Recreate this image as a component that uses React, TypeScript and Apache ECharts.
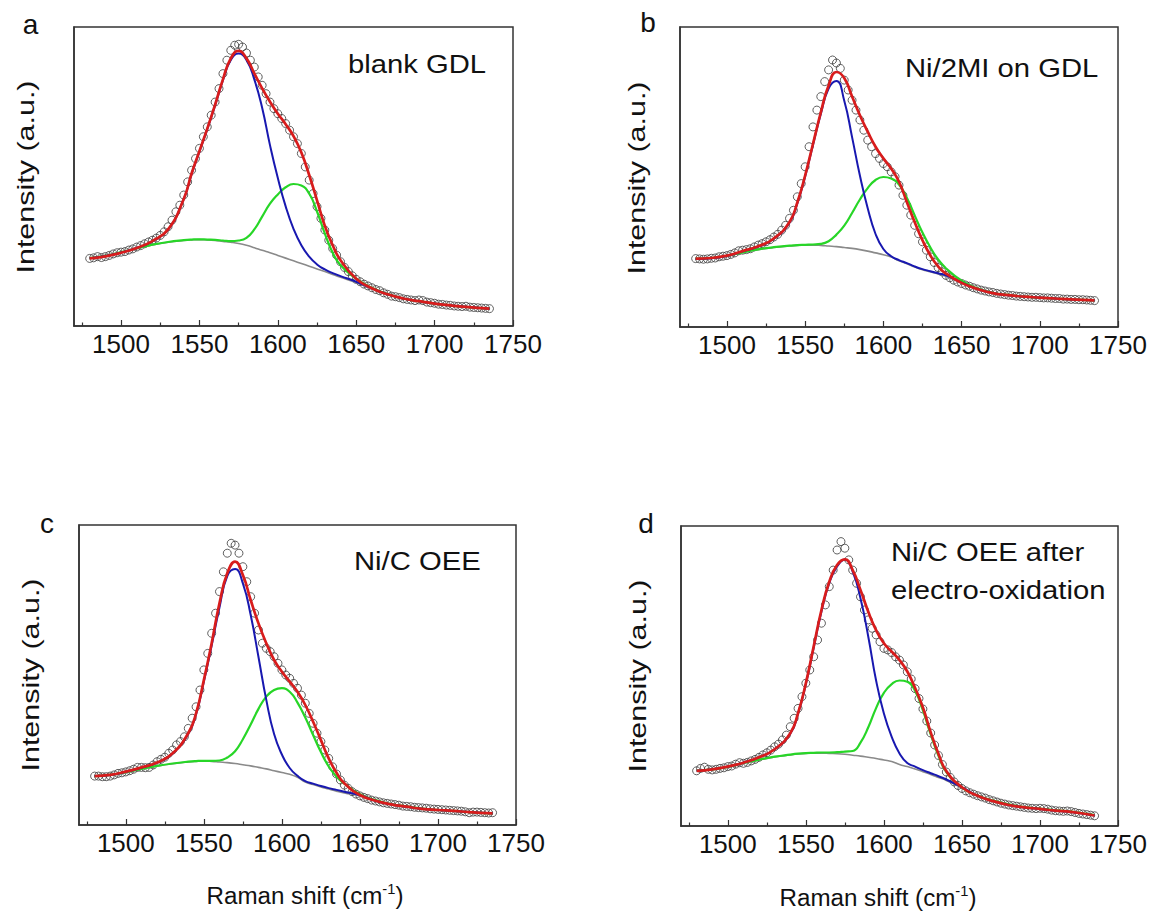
import React, { useEffect, useRef } from "react";
import * as echarts from "echarts";

const FONT = '"Liberation Sans", Arial, Helvetica, sans-serif';
const X_MIN = 1470;
const X_MAX = 1750;
const MAJOR_TICKS = [1500, 1550, 1600, 1650, 1700, 1750];
const MINOR_TICKS = [1475, 1525, 1575, 1625, 1675, 1725];

// measured spectrum sampling grid (every 2.5 cm-1 from 1480 to 1735)
const X_DATA = Array.from({ length: 103 }, (_, i) => 1480 + 2.5 * i);
// grid for the fitted curves
const X_LINE = [1480, 1490, 1500, 1510, 1520, 1530, 1540, 1545, 1550, 1555, 1560, 1565, 1570, 1575, 1580, 1585, 1590, 1595, 1600, 1605, 1610, 1615, 1620, 1625, 1630, 1635, 1640, 1650, 1660, 1670, 1680, 1690, 1700, 1710, 1720, 1735];

// ---- panel a: blank GDL ----
const A_DATA = [
  22.6, 22.8, 23.2, 22.9, 23.2, 23.6, 24.1, 24.5, 24.7, 24.9,
  25.4, 25.8, 26.4, 26.9, 27.5, 28.1, 28.7, 29.4, 30.3, 31.5,
  33.2, 35.4, 38.2, 40.4, 43.8, 48.2, 52.1, 56.0, 59.4, 63.3,
  66.6, 70.5, 74.9, 79.4, 84.4, 88.9, 92.2, 93.9, 94.2, 93.3,
  91.3, 88.9, 86.6, 83.3, 80.5, 77.7, 74.9, 72.7, 71.0, 69.4,
  67.7, 65.5, 63.3, 61.0, 57.7, 53.2, 48.8, 44.3, 39.9, 36.0,
  32.1, 28.7, 25.9, 23.7, 21.5, 19.6, 18.2, 16.8, 15.6, 14.8,
  14.0, 13.4, 12.8, 12.2, 11.8, 11.1, 10.6, 10.0, 9.8, 9.5,
  9.1, 8.9, 8.7, 8.5, 8.7, 8.5, 8.0, 7.8, 7.6, 7.3,
  7.2, 7.0, 6.9, 6.7, 6.6, 6.5, 6.6, 6.3, 6.2, 6.1,
  6.0, 5.9, 5.8,
];
const A_FIT = [22.6, 23.3, 24.5, 26.1, 28.4, 32.3, 42.5, 51.0, 58.5, 66.0, 74.0, 82.5, 89.5, 92.0, 89.5, 84.5, 79.5, 75.0, 71.0, 67.5, 63.5, 58.0, 50.5, 42.0, 33.5, 27.0, 22.0, 15.8, 12.6, 10.6, 9.2, 8.3, 7.5, 6.9, 6.4, 5.8];
const A_PEAK1 = [22.7, 23.4, 24.6, 26.1, 28.3, 32.2, 42.4, 50.8, 58.3, 65.8, 73.8, 82.2, 89.0, 91.1, 89.0, 82.5, 73.0, 60.5, 49.5, 40.0, 32.5, 27.0, 23.2, 20.6, 18.9, 17.7, 16.7, 14.8, 12.6, 10.6, 9.2, 8.3, 7.5, 6.9, 6.4, 5.8];
const A_PEAK2 = [22.7, 23.5, 24.7, 26.0, 27.2, 28.1, 28.7, 28.9, 29.0, 28.9, 28.8, 28.6, 28.4, 28.6, 29.5, 32.3, 36.6, 40.9, 44.0, 46.4, 47.5, 47.0, 44.3, 38.3, 30.9, 24.5, 20.3, 15.8, 12.8, 10.7, 9.2, 8.3, 7.5, 6.9, 6.4, 5.8];
const A_BASE = [22.6, 23.4, 24.6, 25.9, 27.1, 28.0, 28.6, 28.8, 28.9, 28.8, 28.6, 28.3, 28.0, 27.6, 27.0, 26.2, 25.3, 24.5, 23.6, 22.7, 21.8, 20.9, 20.0, 19.1, 18.2, 17.2, 16.3, 14.5, 12.5, 10.5, 9.1, 8.2, 7.4, 6.8, 6.3, 5.7];

// ---- panel b: Ni/2MI on GDL ----
const B_DATA = [
  22.8, 22.7, 22.6, 22.7, 22.9, 23.0, 23.4, 23.6, 23.8, 24.2,
  24.7, 25.4, 25.6, 25.8, 26.1, 26.7, 27.3, 27.8, 28.4, 29.1,
  30.0, 30.9, 32.3, 33.9, 36.2, 38.9, 43.4, 47.8, 53.4, 60.1,
  66.7, 72.3, 76.8, 81.8, 85.7, 89.0, 88.0, 86.2, 82.3, 79.0,
  75.6, 72.3, 69.0, 65.6, 62.3, 60.1, 57.8, 56.2, 54.5, 53.4,
  51.7, 50.1, 47.3, 43.9, 40.6, 37.3, 33.9, 31.1, 28.4, 25.6,
  23.4, 21.5, 19.8, 18.4, 17.2, 16.4, 15.6, 15.0, 14.5, 14.0,
  13.6, 13.1, 12.7, 12.3, 12.0, 11.7, 11.5, 11.2, 11.0, 10.8,
  10.6, 10.5, 10.3, 10.2, 10.1, 10.0, 9.9, 9.9, 9.8, 9.7,
  9.7, 9.6, 9.5, 9.5, 9.3, 9.3, 9.2, 9.2, 9.1, 9.1,
  9.0, 8.9, 8.8,
];
const B_FIT = [22.8, 23.0, 23.8, 25.3, 26.9, 29.5, 35.0, 41.5, 50.5, 61.0, 71.5, 80.5, 85.0, 83.0, 76.8, 70.6, 65.1, 60.1, 56.2, 52.8, 48.4, 41.7, 35.0, 28.9, 23.9, 20.2, 17.8, 14.7, 12.7, 11.3, 10.6, 10.1, 9.8, 9.5, 9.2, 8.9];
const B_PEAK1 = [22.7, 22.9, 23.7, 25.2, 26.8, 29.4, 34.8, 41.2, 50.2, 60.7, 71.0, 79.5, 82.0, 75.4, 63.3, 50.5, 39.6, 31.0, 26.0, 23.6, 22.3, 21.3, 20.2, 19.3, 18.6, 17.9, 17.2, 14.8, 12.7, 11.3, 10.6, 10.1, 9.8, 9.5, 9.2, 8.9];
const B_PEAK2 = [22.8, 23.0, 23.7, 24.9, 25.9, 26.6, 27.1, 27.3, 27.4, 27.5, 27.7, 28.6, 30.8, 33.8, 38.0, 42.5, 46.3, 49.0, 50.0, 49.5, 47.5, 43.1, 37.2, 31.5, 26.6, 22.5, 19.6, 15.4, 12.9, 11.4, 10.7, 10.1, 9.8, 9.5, 9.2, 8.9];
const B_BASE = [22.7, 22.9, 23.6, 24.8, 25.8, 26.5, 27.0, 27.2, 27.3, 27.3, 27.2, 27.0, 26.8, 26.5, 26.2, 25.8, 25.3, 24.7, 24.1, 23.3, 22.1, 21.1, 20.0, 19.1, 18.4, 17.7, 16.9, 14.6, 12.6, 11.2, 10.5, 10.0, 9.7, 9.4, 9.1, 8.8];

// ---- panel c: Ni/C OEE ----
const C_DATA = [
  16.3, 16.3, 16.1, 16.1, 16.3, 16.7, 17.2, 17.4, 17.7, 18.1,
  18.6, 19.2, 19.2, 19.1, 19.2, 20.0, 21.1, 21.9, 22.6, 23.9,
  25.0, 26.7, 27.8, 29.4, 32.2, 35.6, 39.4, 45.0, 51.7, 57.2,
  63.9, 70.6, 77.8, 84.4, 90.6, 93.9, 93.3, 90.6, 86.1, 81.1,
  76.1, 70.6, 65.0, 60.6, 58.9, 57.8, 56.1, 53.9, 51.7, 50.0,
  48.9, 47.2, 45.6, 43.3, 40.6, 37.2, 33.9, 30.6, 27.8, 25.0,
  22.2, 19.4, 17.0, 15.0, 13.3, 12.2, 11.1, 10.3, 9.7, 9.2,
  8.8, 8.3, 8.0, 7.7, 7.4, 7.2, 7.0, 6.8, 6.6, 6.3,
  6.2, 6.1, 5.9, 5.8, 5.7, 5.6, 5.4, 5.3, 5.2, 5.1,
  5.0, 4.9, 4.8, 4.7, 4.6, 4.4, 4.1, 4.3, 4.3, 4.2,
  4.1, 4.0, 4.1,
];
const C_FIT = [16.3, 16.7, 17.8, 19.2, 20.8, 23.9, 30.6, 37.2, 48.3, 60.6, 73.9, 83.9, 87.8, 83.3, 75.0, 67.2, 60.6, 55.0, 51.1, 47.8, 44.4, 40.0, 34.4, 28.3, 22.2, 17.4, 13.9, 10.0, 8.1, 6.9, 6.1, 5.4, 5.0, 4.7, 4.3, 3.9];
const C_PEAK1 = [16.3, 16.7, 17.7, 19.1, 20.7, 23.8, 30.4, 36.9, 47.8, 59.8, 72.5, 83.0, 85.3, 80.5, 70.0, 56.0, 41.7, 30.3, 23.5, 19.0, 16.4, 14.6, 13.8, 13.0, 12.3, 11.7, 11.1, 9.9, 8.1, 6.9, 6.1, 5.4, 5.0, 4.7, 4.3, 3.9];
const C_PEAK2 = [16.3, 16.7, 17.6, 18.7, 19.7, 20.5, 21.1, 21.3, 21.4, 21.4, 21.5, 22.5, 24.6, 28.6, 33.5, 38.7, 42.8, 45.0, 45.6, 44.4, 40.8, 35.8, 30.0, 24.3, 19.5, 16.1, 13.8, 10.3, 8.3, 7.0, 6.2, 5.5, 5.0, 4.7, 4.3, 3.9];
const C_BASE = [16.2, 16.6, 17.5, 18.6, 19.6, 20.4, 21.0, 21.2, 21.3, 21.2, 21.0, 20.8, 20.5, 20.1, 19.7, 19.2, 18.7, 18.1, 17.5, 16.9, 15.9, 14.3, 13.5, 12.7, 12.0, 11.3, 10.7, 9.7, 7.9, 6.7, 5.9, 5.3, 4.9, 4.6, 4.2, 3.8];

// ---- panel d: Ni/C OEE after electro-oxidation ----
const D_DATA = [
  18.4, 19.2, 19.6, 18.9, 18.7, 18.9, 19.2, 19.4, 19.8, 20.0,
  20.6, 21.1, 20.9, 21.2, 21.7, 22.2, 22.9, 23.7, 24.4, 25.3,
  26.4, 27.3, 28.7, 30.3, 33.1, 35.9, 39.2, 43.1, 47.6, 52.0,
  56.4, 62.0, 67.6, 73.7, 79.8, 85.3, 92.0, 94.8, 92.6, 88.7,
  85.3, 80.9, 76.4, 72.0, 68.7, 65.9, 63.7, 61.4, 59.2, 58.7,
  57.8, 56.4, 55.3, 53.7, 51.4, 49.0, 45.8, 42.5, 39.0, 35.0,
  31.0, 27.0, 23.5, 20.5, 18.0, 16.2, 14.7, 13.5, 12.5, 11.7,
  11.1, 10.6, 10.1, 9.7, 9.3, 8.8, 8.4, 8.0, 7.6, 7.3,
  7.0, 6.8, 6.6, 6.4, 6.2, 6.0, 5.9, 5.8, 5.9, 5.8,
  5.6, 5.3, 5.1, 5.0, 4.9, 5.0, 4.8, 4.5, 4.2, 4.0,
  3.8, 3.6, 3.4,
];
const D_FIT = [18.4, 18.9, 19.8, 21.1, 22.9, 25.6, 30.9, 37.6, 47.6, 59.8, 72.0, 81.4, 87.0, 88.9, 85.3, 78.7, 71.4, 65.3, 60.9, 58.1, 55.3, 51.5, 46.0, 39.5, 31.2, 24.0, 18.3, 12.9, 10.1, 8.3, 7.0, 6.2, 5.7, 5.1, 4.7, 3.5];
const D_PEAK1 = [18.4, 18.9, 19.8, 21.1, 22.9, 25.6, 30.8, 37.4, 47.3, 59.4, 71.5, 81.0, 86.5, 88.8, 84.8, 75.9, 63.1, 48.5, 37.5, 29.7, 24.2, 21.0, 19.8, 18.6, 17.6, 16.6, 15.5, 12.9, 10.1, 8.3, 7.0, 6.2, 5.7, 5.1, 4.7, 3.5];
const D_PEAK2 = [18.5, 18.9, 19.7, 21.0, 22.1, 23.1, 23.8, 24.1, 24.3, 24.4, 24.5, 24.5, 24.6, 24.8, 25.0, 27.8, 32.9, 39.3, 44.4, 47.3, 48.5, 48.1, 45.0, 38.5, 30.5, 23.4, 18.0, 12.8, 10.2, 8.5, 7.2, 6.3, 5.8, 5.2, 4.8, 3.6];
const D_BASE = [18.4, 18.8, 19.6, 20.9, 22.0, 23.0, 23.7, 24.0, 24.2, 24.3, 24.3, 24.2, 24.1, 23.9, 23.6, 23.3, 22.9, 22.5, 22.0, 21.5, 20.5, 19.8, 19.0, 18.1, 17.2, 16.2, 15.2, 12.7, 10.0, 8.2, 6.9, 6.1, 5.6, 5.0, 4.6, 3.4];

const PANEL_LETTERS = ["a", "b", "c", "d"];
const Y_NAME = "Intensity (a.u.)";
const X_NAME_MAIN = "Raman shift (cm";
const X_NAME_SUP = "-1";
const X_NAME_END = ")";

const PANELS = [
  { grid: { left: 74, top: 27, width: 439, height: 299 }, data: A_DATA, fit: A_FIT, p1: A_PEAK1, p2: A_PEAK2, base: A_BASE },
  { grid: { left: 680, top: 27, width: 438, height: 300 }, data: B_DATA, fit: B_FIT, p1: B_PEAK1, p2: B_PEAK2, base: B_BASE },
  { grid: { left: 79, top: 525, width: 437, height: 300 }, data: C_DATA, fit: C_FIT, p1: C_PEAK1, p2: C_PEAK2, base: C_BASE },
  { grid: { left: 681, top: 526, width: 437, height: 300 }, data: D_DATA, fit: D_FIT, p1: D_PEAK1, p2: D_PEAK2, base: D_BASE },
];

const AXIS_COLOR = "#333";

function measure(text: string, size: number) {
  const c = document.createElement("canvas").getContext("2d");
  if (!c) return text.length * size * 0.5;
  c.font = `${size}px "Liberation Sans", Arial, sans-serif`;
  return c.measureText(text).width;
}

function txt(text: string, x: number, y: number, size: number, o: any = {}) {
  const style: any = {
    text,
    fontSize: size,
    fontFamily: FONT,
    fill: "#111",
    align: o.align || "center",
    verticalAlign: o.valign || "middle",
  };
  return {
    type: "text",
    x,
    y,
    rotation: o.rotation || 0,
    scaleX: o.scaleX || 1,
    scaleY: 1,
    silent: true,
    style,
  };
}

// x-axis title with superscript, centred on cx, baseline at by
function xTitle(cx: number, by: number, size: number, supSize: number, sx: number) {
  const w1 = measure(X_NAME_MAIN, size) * sx;
  const w2 = measure(X_NAME_SUP, supSize) * sx;
  const w3 = measure(X_NAME_END, size) * sx;
  const x0 = cx - (w1 + w2 + w3) / 2;
  return [
    txt(X_NAME_MAIN, x0, by, size, { align: "left", valign: "bottom", scaleX: sx }),
    txt(X_NAME_SUP, x0 + w1, by - size * 0.52, supSize, { align: "left", valign: "bottom", scaleX: sx }),
    txt(X_NAME_END, x0 + w1 + w2, by, size, { align: "left", valign: "bottom", scaleX: sx }),
  ];
}

function buildOption() {
  const grid: any[] = [];
  const xAxis: any[] = [];
  const yAxis: any[] = [];
  const series: any[] = [];

  PANELS.forEach((p, i) => {
    grid.push({ ...p.grid, show: true, borderColor: AXIS_COLOR, borderWidth: 1.5, backgroundColor: "transparent" });
    xAxis.push({
      gridIndex: i,
      type: "value",
      min: X_MIN,
      max: X_MAX,
      position: "bottom",
      axisLine: { show: true, onZero: false, lineStyle: { color: AXIS_COLOR, width: 1.5 } },
      axisTick: { show: true, inside: true, length: 6, customValues: MAJOR_TICKS, lineStyle: { color: AXIS_COLOR, width: 1.2 } },
      axisLabel: {
        show: true,
        customValues: MAJOR_TICKS,
        fontSize: 26,
        fontFamily: FONT,
        color: "#111",
        margin: 5,
        formatter: (v: number) => String(v),
      },
      splitLine: { show: false },
    });
    yAxis.push({
      gridIndex: i,
      type: "value",
      min: 0,
      max: 100,
      axisLine: { show: true, lineStyle: { color: AXIS_COLOR, width: 1.5 } },
      axisTick: { show: false },
      axisLabel: { show: false },
      splitLine: { show: false },
    });
  });
  PANELS.forEach((p, i) => {
    xAxis.push({
      gridIndex: i,
      type: "value",
      min: X_MIN,
      max: X_MAX,
      position: "bottom",
      offset: 0,
      axisLine: { show: false },
      axisTick: { show: true, inside: true, length: 3.5, customValues: MINOR_TICKS, lineStyle: { color: AXIS_COLOR, width: 1.2 } },
      axisLabel: { show: false },
      splitLine: { show: false },
    });
  });

  PANELS.forEach((p, i) => {
    series.push({
      type: "scatter",
      xAxisIndex: i,
      yAxisIndex: i,
      symbol: "circle",
      symbolSize: 8,
      silent: true,
      itemStyle: { color: "rgba(255,255,255,0)", borderColor: "#3a3a3a", borderWidth: 1 },
      data: X_DATA.map((x, k) => [x, p.data[k]]),
    });
    const line = (arr: number[], color: string, width: number) => ({
      type: "line",
      xAxisIndex: i,
      yAxisIndex: i,
      showSymbol: false,
      symbol: "none",
      smooth: 0.5,
      silent: true,
      lineStyle: { color, width },
      data: X_LINE.map((x, k) => [x, arr[k]]),
    });
    series.push(line(p.base, "#8a8a8a", 1.6));
    series.push(line(p.p2, "#27d627", 2.2));
    series.push(line(p.p1, "#1818b0", 2));
    series.push(line(p.fit, "#d81c1c", 2.7));
  });

  const graphic: any[] = [
    txt(PANEL_LETTERS[0], 30.5, 24.5, 28),
    txt(PANEL_LETTERS[1], 648, 22.5, 28),
    txt(PANEL_LETTERS[2], 47, 523.5, 28),
    txt(PANEL_LETTERS[3], 646, 523.5, 28),
    txt("blank GDL", 348, 64.5, 25, { align: "left", scaleX: 1.17 }),
    txt("Ni/2MI on GDL", 905, 68, 25, { align: "left", scaleX: 1.17 }),
    txt("Ni/C OEE", 354, 561.5, 25, { align: "left", scaleX: 1.17 }),
    txt("Ni/C OEE after", 891, 552, 25, { align: "left", scaleX: 1.17 }),
    txt("electro-oxidation", 891, 590, 25, { align: "left", scaleX: 1.17 }),
    txt(Y_NAME, 26, 177, 24, { rotation: Math.PI / 2, scaleX: 1.27 }),
    txt(Y_NAME, 637, 178, 24, { rotation: Math.PI / 2, scaleX: 1.27 }),
    txt(Y_NAME, 31, 675, 24, { rotation: Math.PI / 2, scaleX: 1.27 }),
    txt(Y_NAME, 638, 676, 24, { rotation: Math.PI / 2, scaleX: 1.27 }),
    ...xTitle(305, 908, 23, 14, 1.05),
    ...xTitle(878, 910, 23, 14, 1.05),
  ];

  return {
    animation: false,
    backgroundColor: "#ffffff",
    grid,
    xAxis,
    yAxis,
    series,
    graphic: { elements: graphic },
  };
}

export default function App() {
  const ref = useRef<HTMLDivElement>(null);
  useEffect(() => {
    document.body.style.margin = "0";
    if (!ref.current) return;
    const chart = echarts.init(ref.current, undefined, { renderer: "svg" });
    chart.setOption(buildOption() as any);
    return () => chart.dispose();
  }, []);
  return <div ref={ref} style={{ width: 1154, height: 915 }} />;
}
